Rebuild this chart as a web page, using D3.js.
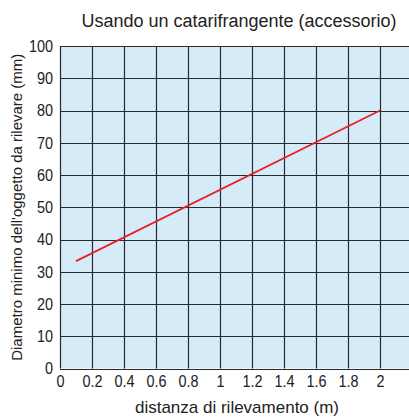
<!DOCTYPE html>
<html>
<head>
<meta charset="utf-8">
<script src="https://cdn.jsdelivr.net/npm/d3@7"></script>
<style>
  body { margin: 0; background: #fff; }
  svg { display: block; font-family: "Liberation Sans", Arial, sans-serif; }
</style>
</head>
<body>
<div id="chart"></div>
<script>
// data
var distanza = [0.1, 2];          // m
var diametro = [33.3, 80];        // mm
var xTicks = [0, 0.2, 0.4, 0.6, 0.8, 1, 1.2, 1.4, 1.6, 1.8, 2];
var yTicks = [0, 10, 20, 30, 40, 50, 60, 70, 80, 90, 100];
var xGrid = [0, 0.2, 0.4, 0.6, 0.8, 1, 1.2, 1.4, 1.6, 1.8, 2, 2.2];

var width = 409, height = 417;
var margin = {top: 46, right: 0, bottom: 48, left: 60};

var svg = d3.select("#chart").append("svg")
  .attr("width", width)
  .attr("height", height);

//scales - plot runs past the right edge of the window
var x = d3.scaleLinear().domain([0, 2.2]).range([margin.left, margin.left + 352]);
var y = d3.scaleLinear().domain([0, 100]).range([height - margin.bottom - 0.5, margin.top]);

//background
svg.append("rect")
  .attr("x", x(0)).attr("y", y(100))
  .attr("width", x(2.2) - x(0)).attr("height", y(0) - y(100))
  .attr("fill", "#d5ebf8");

//grid
svg.selectAll(".vgrid").data(xGrid).enter().append("line")
  .attr("x1", function(d){ return Math.round(x(d)) + 0.5; })
  .attr("x2", function(d){ return Math.round(x(d)) + 0.5; })
  .attr("y1", y(100)).attr("y2", y(0))
  .attr("stroke", "#2a2a2a").attr("stroke-width", 1.2);

svg.selectAll(".hgrid").data(yTicks).enter().append("line")
  .attr("x1", x(0)).attr("x2", x(2.2))
  .attr("y1", function(d){ return Math.round(y(d)) + 0.5; })
  .attr("y2", function(d){ return Math.round(y(d)) + 0.5; })
  .attr("stroke", "#2a2a2a").attr("stroke-width", 1.2);

//x axis labels
var xAxis = d3.axisBottom(x).tickValues(xTicks).tickSize(0).tickPadding(6)
  .tickFormat(function(d){ return d3.format("")(d); });
var gx = svg.append("g")
  .attr("transform", "translate(0," + y(0) + ")")
  .call(xAxis);
gx.select(".domain").remove();
gx.selectAll("text")
  .attr("fill", "#222")
  .style("font-size", "17px")
  .attr("transform", "scale(0.85,1)");

//y axis labels
var yAxis = d3.axisLeft(y).tickValues(yTicks).tickSize(0).tickPadding(7);
var gy = svg.append("g")
  .attr("transform", "translate(" + x(0) + ",0)")
  .call(yAxis);
gy.select(".domain").remove();
gy.selectAll("text")
  .attr("fill", "#222")
  .style("font-size", "17px")
  .attr("transform", "scale(0.85,1)")
  .attr("x", -7 / 0.85);

//line
var line = d3.line()
  .x(function(d, i){ return x(distanza[i]); })
  .y(function(d){ return y(d); });
svg.append("path")
  .datum(diametro)
  .attr("d", line)
  .attr("fill", "none")
  .attr("stroke", "#e8202a")
  .attr("stroke-width", 1.8);

//titles
svg.append("text")
  .attr("x", 239).attr("y", 27)
  .attr("text-anchor", "middle")
  .attr("fill", "#222")
  .style("font-size", "18px")
  .text("Usando un catarifrangente (accessorio)");

svg.append("text")
  .attr("x", 237).attr("y", 413)
  .attr("text-anchor", "middle")
  .attr("fill", "#222")
  .style("font-size", "17px")
  .text("distanza di rilevamento (m)");

svg.append("text")
  .attr("transform", "translate(22," + ((y(0) + y(100)) / 2) + ") rotate(-90)")
  .attr("text-anchor", "middle")
  .attr("fill", "#222")
  .style("font-size", "15px")
  .text("Diametro minimo dell'oggetto da rilevare (mm)");
</script>
</body>
</html>
